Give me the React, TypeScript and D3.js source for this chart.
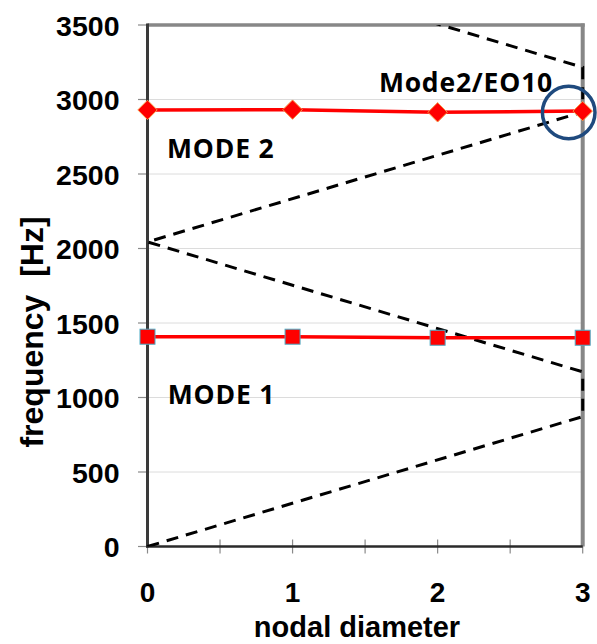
import React from "react";
import * as d3 from "d3";

const nodalDiameters = [0, 1, 2, 3];
const mode1Freq = [1408, 1408, 1401, 1401];
const mode2Freq = [2930, 2932, 2914, 2922];
const eoZigzagX = [0, 3, 3, 0, 3, 3, 0];
const eoZigzagY = [0, 872, 1172, 2044, 2916, 3216, 4088];
const yTicks = [0, 500, 1000, 1500, 2000, 2500, 3000, 3500];
const xTicks = [0, 1, 2, 3];
const xMinorTicks = [0, 0.5, 1, 1.5, 2, 2.5, 3];
const annotations = [
  { text: "MODE 2", x: 0.135, y: 2605 },
  { text: "MODE 1", x: 0.14, y: 955 },
  { text: "Mode2/EO10", x: 1.595, y: 3050 },
];

const W = 597;
const H = 644;

export default function App() {
  const x = d3.scaleLinear().domain([0, 3]).range([147.5, 582.7]);
  const y = d3.scaleLinear().domain([0, 3500]).range([546.5, 25]);

  const line = d3
    .line<number>()
    .x((_, i) => x(nodalDiameters[i]))
    .y((d) => y(d));

  const zz = d3
    .line<number>()
    .x((_, i) => x(eoZigzagX[i]))
    .y((d) => y(d));

  const arial = "'Liberation Sans', Arial, sans-serif";
  const annFont = "'Open Sans', 'Noto Sans', sans-serif";
  const diamond = d3.symbol().type(d3.symbolDiamond2).size(240)();

  return (
    <div style={{ position: "absolute", left: 0, top: 0 }}>
      <svg width={W} height={H} style={{ display: "block", background: "#fff" }}>
        <defs>
          <clipPath id="plotclip">
            <rect x={x(0) - 5} y={y(3500)} width={x(3) - x(0) + 10} height={y(0) - y(3500)} />
          </clipPath>
        </defs>
        {yTicks.slice(1, -1).map((t) => (
          <line key={"g" + t} x1={x(0)} x2={x(3)} y1={y(t)} y2={y(t)} stroke="#dcdcdc" strokeWidth={1} />
        ))}
        <line x1={x(0)} x2={x(3) + 2} y1={y(3500)} y2={y(3500)} stroke="#878787" strokeWidth={3.5} />
        <line x1={x(3)} x2={x(3)} y1={y(3500) - 1.5} y2={y(0)} stroke="#878787" strokeWidth={4} />
        {yTicks.map((t) => (
          <line key={"yt" + t} x1={138} x2={x(0)} y1={y(t)} y2={y(t)} stroke="#8a8a8a" strokeWidth={1.2} />
        ))}
        {xMinorTicks.map((t) => (
          <line key={"xt" + t} x1={x(t)} x2={x(t)} y1={y(0) - 7} y2={y(0) + 7} stroke="#8a8a8a" strokeWidth={1.2} />
        ))}
        <line x1={x(0)} x2={x(0)} y1={y(3500) - 1.5} y2={y(0) + 1} stroke="#3a3a3a" strokeWidth={3} />
        <line x1={x(0) - 1.5} x2={x(3)} y1={y(0)} y2={y(0)} stroke="#2a2a2a" strokeWidth={2.5} />
        <path
          d={zz(eoZigzagY) || ""}
          fill="none"
          stroke="#000"
          strokeWidth={3}
          strokeDasharray="12,8"
          clipPath="url(#plotclip)"
        />
        <path d={line(mode1Freq) || ""} fill="none" stroke="#ff0000" strokeWidth={3.5} />
        <path d={line(mode2Freq) || ""} fill="none" stroke="#ff0000" strokeWidth={3.5} />
        {mode1Freq.map((v, i) => (
          <rect
            key={"s" + i}
            x={x(nodalDiameters[i]) - 7.5}
            y={y(v) - 7.5}
            width={15}
            height={15}
            fill="#ff0000"
            stroke="#4bacc6"
            strokeWidth={1}
          />
        ))}
        {mode2Freq.map((v, i) => (
          <path
            key={"d" + i}
            d={diamond || ""}
            transform={`translate(${x(nodalDiameters[i])},${y(v)})`}
            fill="#ff0000"
            stroke="#f79646"
            strokeWidth={1}
          />
        ))}
        <circle cx={568.7} cy={112.5} r={26.3} fill="none" stroke="#1f4a7e" strokeWidth={3.5} />
        {yTicks.map((t) => (
          <text
            key={"yl" + t}
            x={119.5}
            y={y(t) + 10.5}
            textAnchor="end"
            fontFamily={arial}
            fontWeight="bold"
            fontSize={28.5}
            fill="#000"
          >
            {t}
          </text>
        ))}
        {xTicks.map((t) => (
          <text
            key={"xl" + t}
            x={x(t)}
            y={601.7}
            textAnchor="middle"
            fontFamily={arial}
            fontWeight="bold"
            fontSize={28}
            fill="#000"
          >
            {t}
          </text>
        ))}
        <text x={357} y={637} textAnchor="middle" fontFamily={arial} fontWeight="bold" fontSize={29} fill="#000">
          nodal diameter
        </text>
        <text
          transform="translate(43,332) rotate(-90)"
          textAnchor="middle"
          fontFamily={arial}
          fontWeight="bold"
          fontSize={32}
          fill="#000"
          style={{ whiteSpace: "pre" }}
        >
          {"frequency  [Hz]"}
        </text>
        {annotations.map((a) => (
          <text
            key={a.text}
            x={x(a.x)}
            y={y(a.y)}
            fontFamily={annFont}
            fontWeight={700}
            fontSize={26.5}
            letterSpacing={0.8}
            fill="#000"
          >
            {a.text}
          </text>
        ))}
      </svg>
    </div>
  );
}
